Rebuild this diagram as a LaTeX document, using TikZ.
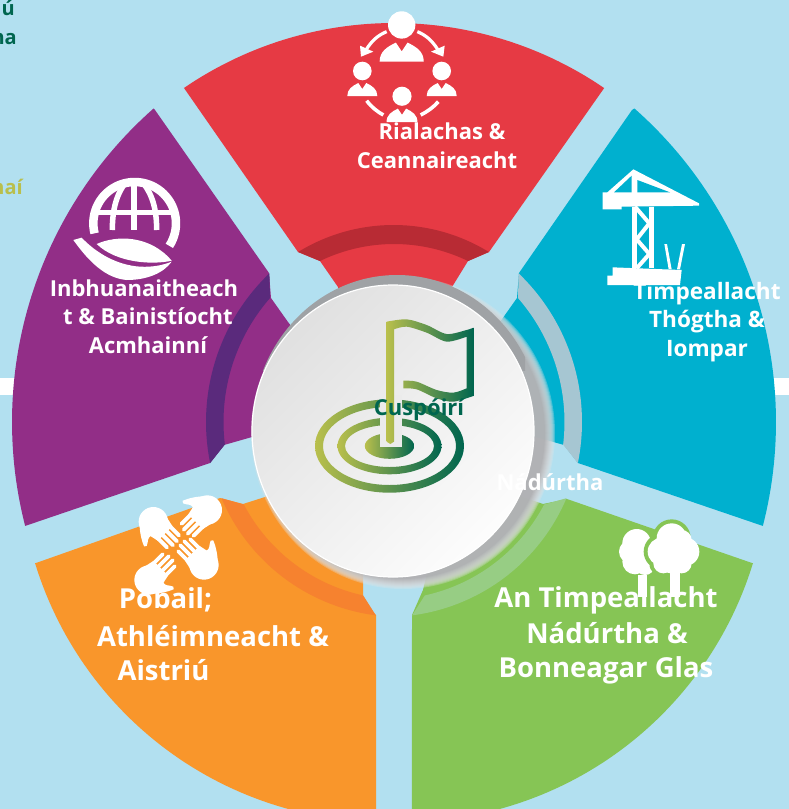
\documentclass[tikz,border=0pt]{standalone}
\usepackage{fontspec}
\setmainfont{Open Sans}
\definecolor{bgblue}{HTML}{B2E0F0}
\definecolor{secred}{HTML}{E63A44}
\definecolor{bandred}{HTML}{B82B34}
\definecolor{secpurple}{HTML}{922E87}
\definecolor{bandpurple}{HTML}{5A2A7C}
\definecolor{secblue}{HTML}{00B0CF}
\definecolor{bandblue}{HTML}{A6C6D2}
\definecolor{secorange}{HTML}{F9962B}
\definecolor{bandorange}{HTML}{F6822F}
\definecolor{secgreen}{HTML}{86C555}
\definecolor{bandgreen}{HTML}{97CD84}
\definecolor{flagyellow}{HTML}{B9BF4C}
\definecolor{flaggreen}{HTML}{00664F}
\definecolor{crescent}{HTML}{9FA2A5}
\definecolor{shadowdark}{HTML}{A6A7AA}
\definecolor{shadowlight}{HTML}{E2E4E6}
\newcommand{\personicon}[3]{%
 \begin{scope}[shift={(#1,#2)},scale=#3]
  \fill[white] (0,-25) circle [radius=9.3];
  \fill[white] (-15,0) .. controls (-15,-7) and (-10,-10) .. (-4,-13) -- (0,-7) -- (4,-13) .. controls (10,-10) and (15,-7) .. (15,0) -- cycle;
 \end{scope}}
\newcommand{\handicon}[3]{%
 \begin{scope}[shift={(#1,#2)},rotate=#3]
  \fill[white] (0,0) circle [radius=44];
  \fill[white] (-5,-43) -- (50,-31) -- (50,31) -- (-5,43) -- cycle;
  \draw[white,line width=3.8pt,line cap=round] (45,-25.5) -- (84,-25.5) (45,-8.5) -- (92,-8.5) (45,8.5) -- (92,8.5) (45,25.5) -- (84,25.5);
  \fill[white] (-30,28) .. controls (-10,50) and (15,65) .. (33,72) .. controls (40,70) and (38,62) .. (32,56) .. controls (25,48) and (22,40) .. (25,30) -- cycle;
 \end{scope}}
\newcommand{\ringicon}[4]{%
 \begin{scope}[even odd rule]
  \clip (389.5,446) ellipse [x radius=#1,y radius=#2] (389.5,446) ellipse [x radius=#3,y radius=#4];
  \shade[left color=flagyellow,right color=flaggreen] ({389.5-#1},{446-#2}) rectangle ({389.5+#1},{446+#2});
 \end{scope}}
\tikzset{
 lab/.style={anchor=base,inner sep=0pt,text=white,font=\fontsize{22}{26}\selectfont\bfseries},
 labtim/.style={lab,font=\fontsize{22.6}{26}\selectfont\bfseries},
 labbig/.style={lab,font=\fontsize{27.5}{32}\selectfont\bfseries},
 clipped/.style={anchor=base east,inner sep=0pt,font=\fontsize{20}{24}\selectfont\bfseries},
}
\begin{document}
\begin{tikzpicture}[x=1pt,y=-1pt]
\useasboundingbox (0,0) rectangle (789,809);
\fill[bgblue] (0,0) rectangle (789,809);
% white strips
\fill[white] (0,378) rectangle (20,395);
\fill[white] (769,378) rectangle (789,395);
% clipped side texts
\node[clipped,text=flaggreen] (tl1) at (15,15) {ú};
\node[clipped,text=flaggreen] (tl2) at (17,44) {na};
\node[clipped,text=flagyellow] (tl3) at (23,194) {naí};
% sectors
\fill[secred] (184,88) -- plot[domain=235.6:304.4,samples=60] ({394+372*cos(\x)},{395+372*sin(\x)}) -- (489,252) -- (468,261) -- (452,287) -- (440,330) -- (350,330) -- (338,287) -- (320,261) -- (298,252) -- cycle;
\fill[bandred] plot[domain=238.4:301.6,samples=40] ({393.5+182*cos(\x)},{407+182*sin(\x)}) -- plot[domain=295.9:244.1,samples=40] ({394+169.6*cos(\x)},{413.6+169.6*sin(\x)}) -- cycle;
\fill[secpurple] (155,110) -- plot[domain=228.6:165.6,samples=60] ({430+418*cos(\x)},{422+418*sin(\x)}) -- (210,463) -- (224,445) -- (252,437) -- (300,425) -- (310,350) -- (288,322) -- (271,298) -- (269,273) -- cycle;
\fill[bandpurple] plot[domain=226.2:168.5,samples=40] ({412+206*cos(\x)},{422+206*sin(\x)}) -- plot[domain=173.1:221.1,samples=40] ({412+188.5*cos(\x)},{422+188.5*sin(\x)}) -- cycle;
\fill[secblue] (632,110) -- plot[domain=311.4:374.4,samples=60] ({358+418*cos(\x)},{422+418*sin(\x)}) -- (578,463) -- (564,445) -- (536,437) -- (488,425) -- (478,350) -- (500,322) -- (517,298) -- (519,273) -- cycle;
\fill[bandblue] plot[domain=313.8:371.5,samples=40] ({376+206*cos(\x)},{422+206*sin(\x)}) -- plot[domain=366.9:318.9,samples=40] ({376+188.5*cos(\x)},{422+188.5*sin(\x)}) -- cycle;
\fill[secorange] (36,563) -- plot[domain=163:91.4,samples=60] ({385+366*cos(\x)},{456+366*sin(\x)}) -- (376,615) -- (363,603) -- (363,560) -- (290,480) -- (265,497) -- (243,504) -- (220,498) -- cycle;
\fill[bandorange] plot[domain=157:97.4,samples=40] ({401+195*cos(\x)},{422+195*sin(\x)}) -- plot[domain=102.3:152.3,samples=40] ({401+177.5*cos(\x)},{422+177.5*sin(\x)}) -- cycle;
\fill[secgreen] (752,563) -- plot[domain=17:88.6,samples=60] ({403+366*cos(\x)},{456+366*sin(\x)}) -- (412,615) -- (423,590) -- (430,560) -- (500,480) -- (523,497) -- (543,504) -- (567,499) -- cycle;
\fill[bandgreen] plot[domain=23:82.6,samples=40] ({387+195*cos(\x)},{422+195*sin(\x)}) -- plot[domain=77.7:27.7,samples=40] ({387+177.5*cos(\x)},{422+177.5*sin(\x)}) -- cycle;
% people icon
\personicon{401.7}{61.7}{1.47}
\personicon{362.3}{96}{1}
\personicon{441.7}{96}{1}
\personicon{402}{122}{1.03}
\begin{scope}[shift={(330,0)},scale=1/3]
 \draw[white,line width=3.2pt] (170,95) .. controls (145,105) and (125,122) .. (108,150);
 \fill[white] (93,170) -- (90,137) -- (130,155) -- cycle;
 \draw[white,line width=3.2pt] (262,95) .. controls (287,105) and (307,122) .. (324,150);
 \fill[white] (340,170) -- (344,137) -- (303,155) -- cycle;
 \draw[white,line width=3.6pt] (110,302) .. controls (125,322) and (142,335) .. (160,345);
 \draw[white,line width=3.6pt] (325,305) .. controls (310,322) and (292,335) .. (272,345);
\end{scope}
% crane icon
\begin{scope}[shift={(580,160)},scale=1/3]
 \fill[white] (160,28) -- (357,130) -- (357,137) -- (125,140) -- (125,148) -- (68,148) -- (68,97) -- (82,97) -- cycle;
 \fill[secblue] (155,47) -- (155,97) -- (102,97) -- cycle;
 \fill[secblue] (172,60) -- (172,97) -- (270,97) -- cycle;
 \fill[white] (157,140) rectangle (170,325);
 \fill[white] (208,140) rectangle (222,325);
 \draw[white,line width=4pt] (165,140) -- (208,190) -- (170,238) -- (208,282) -- (170,325);
 \fill[white] (253,252) -- (261,252) -- (275,328) -- (266,328) -- cycle;
 \fill[white] (306,252) -- (315,252) -- (300,328) -- (291,328) -- cycle;
 \fill[white] (98,322) -- (305,330) -- (300,375) -- (82,375) -- (82,347) -- (98,347) -- cycle;
\end{scope}
% globe and leaf icon
\begin{scope}[shift={(60,170)},scale=1/3]
 \draw[white,line width=8.5pt] plot[domain=166:393,samples=50] ({224+124*cos(\x)},{160+124*sin(\x)});
 \draw[white,line width=5.5pt] (100,128) -- (350,128);
 \draw[white,line width=5.5pt] (222,35) -- (222,180);
 \draw[white,line width=5.5pt] (195,40) .. controls (165,80) and (157,130) .. (157,180);
 \draw[white,line width=5.5pt] (250,40) .. controls (282,80) and (290,130) .. (290,180);
 \fill[white] (110,222) .. controls (170,195) and (270,195) .. (335,272) .. controls (280,285) and (170,280) .. (110,222) -- cycle;
 \fill[white] (40,210) -- (65,203) .. controls (110,250) and (170,285) .. (240,290) .. controls (280,292) and (310,285) .. (335,275) .. controls (310,310) and (260,330) .. (200,330) .. controls (140,325) and (90,280) .. (40,210) -- cycle;
\end{scope}
% hands icon
\begin{scope}[shift={(120,480)},scale=1/3]
 \handicon{100}{125}{-45}
 \handicon{262}{90}{-135}
 \handicon{252}{255}{-225}
 \handicon{87}{300}{-315}
\end{scope}
% trees icon
\begin{scope}[shift={(600,510)},scale=1/3]
 \fill[white] (115,195) rectangle (140,262);
 \fill[white] (110,100) circle [radius=43] (92,125) circle [radius=35] (105,155) circle [radius=38] (135,165) circle [radius=30];
 \fill[secgreen] (215,85) circle [radius=57] (185,125) circle [radius=54] (215,150) circle [radius=52] (190,160) circle [radius=42];
 \fill[white] (210,180) rectangle (240,262);
 \fill[white] (215,85) circle [radius=45] (185,125) circle [radius=42] (255,125) circle [radius=43] (215,150) circle [radius=40] (245,160) circle [radius=30] (190,160) circle [radius=30] (245,90) circle [radius=30];
\end{scope}
% centre disc with shadow
\foreach \i [evaluate=\i as \p using int(\i*10)] in {0,...,10}
 \fill[shadowdark!\p!shadowlight,opacity=.3] (403,433) ellipse [x radius={152-\i},y radius={156-\i}];
\begin{scope}
 \clip (240,265) rectangle (525,370);
 \fill[crescent] (397,430) ellipse [x radius=145,y radius=155];
\end{scope}
\shade[top color=black!12,bottom color=black!1,shading angle=45,draw=white,line width=1.2pt] (393,431) ellipse [x radius=141,y radius=146];
% target and flag
\ringicon{74.5}{46.7}{66.5}{39}
\ringicon{52}{28.3}{44.5}{21}
\ringicon{24.7}{12.8}{0.1}{0.1}
\fill[black!8] (380,395) rectangle (401.7,447);
\begin{scope}[shift={(240,260)},scale=1/3]
 \clip plot[smooth] coordinates {(440,185)(500,178)(560,195)(620,222)(680,210)(700,203)} -- (700,408) -- plot[smooth] coordinates {(700,408)(640,425)(590,415)(530,388)(490,385)} -- (490,362) -- plot[smooth] coordinates {(490,362)(530,365)(590,390)(640,398)(680,385)} -- (680,230) -- plot[smooth] coordinates {(680,230)(620,245)(560,218)(500,200)(462,208)} -- (462,545) -- (451,552) -- (440,545) -- cycle;
 \shade[left color=flagyellow,right color=flaggreen] (440,170) rectangle (700,560);
\end{scope}
% labels
\node[lab] (rial1) at (442,139) {Rialachas \&};
\node[lab] (rial2) at (437,168) {Ceannaireacht};
\node[lab] (inb1) at (144,296) {Inbhuanaitheach};
\node[lab] (inb2) at (148,324) {t \& Bainistíocht};
\node[lab] (inb3) at (148,353) {Acmhainní};
\node[labtim] (tim1) at (707,299) {Timpeallacht};
\node[labtim] (tim2) at (707,327) {Thógtha \&};
\node[labtim] (tim3) at (707,356) {Iompar};
\node[lab,text=flaggreen] (cus) at (419,415) {Cuspóirí};
\node[lab] (nad) at (550,490) {Nádúrtha};
\node[labbig] (pob1) at (165.5,608) {Pobail;};
\node[labbig] (pob2) at (213,646) {Athléimneacht \&};
\node[labbig] (pob3) at (163.5,680) {Aistriú};
\node[labbig] (ant1) at (606,607) {An Timpeallacht};
\node[labbig] (ant2) at (607,643) {Nádúrtha \&};
\node[labbig] (ant3) at (606,677) {Bonneagar Glas};
\end{tikzpicture}
\end{document}
